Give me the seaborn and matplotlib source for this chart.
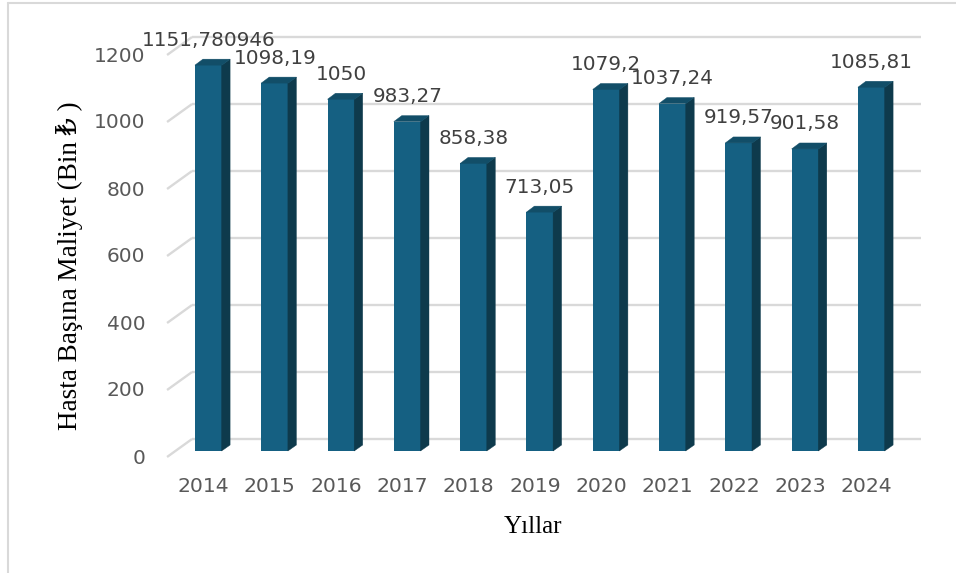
import matplotlib
matplotlib.use("Agg")
import matplotlib.pyplot as plt
from matplotlib.transforms import ScaledTranslation
from matplotlib.patches import Polygon
from matplotlib.lines import Line2D
import seaborn as sns
import pandas as pd

# ---- data ----
years = ["2014", "2015", "2016", "2017", "2018", "2019", "2020", "2021", "2022", "2023", "2024"]
values = [1151.780946, 1098.19, 1050, 983.27, 858.38, 713.05, 1079.2, 1037.24, 919.57, 901.58, 1085.81]
yticks = [0, 200, 400, 600, 800, 1000, 1200]
ylabel = "Hasta Başına Maliyet (Bin ₺ )"
xlabel = "Yıllar"

def fmt(v):
    return ("%.6f" % v).rstrip("0").rstrip(".").replace(".", ",")

labels = [fmt(v) for v in values]

# ---- style ----
sns.set_theme(style="white")
plt.rcParams["font.family"] = ["DejaVu Sans"]

FRONT = "#156082"
SIDE = "#0e3a4c"
TOP = "#124e68"
GRID = "#d9d9d9"
TICK = "#595959"
LBL = "#404040"
SERIF = ["Liberation Serif", "DejaVu Serif", "DejaVu Sans"]

W, H, DPI = 956, 573, 100
fig = plt.figure(figsize=(W / DPI, H / DPI), dpi=DPI)
fig.patch.set_facecolor("white")

# axes geometry (pixels) for the bar plane
ax_l, ax_r = 175.35, 904.65
ax_b, ax_t = 451.0, 49.0
ax = fig.add_axes([ax_l / W, (H - ax_b) / H, (ax_r - ax_l) / W, (ax_b - ax_t) / H])
ax.set_facecolor("none")

df = pd.DataFrame({"year": years, "value": values})
sns.barplot(data=df, x="year", y="value", color=FRONT, saturation=1, width=0.41,
            ax=ax, zorder=3, linewidth=0)
ax.set_xlim(-0.5, len(years) - 0.5)
ax.set_ylim(0, 1200)

px_x = (ax_r - ax_l) / len(years)   # pixels per x unit
px_y = (ax_b - ax_t) / 1200.0        # pixels per y unit

def off(dx_px, dy_px):
    return ax.transData + ScaledTranslation(dx_px / DPI, dy_px / DPI, fig.dpi_scale_trans)

# gridlines: left wall slant + back wall line
front_dx, front_dy = -8.3, -6.0     # front plane relative to bar plane (up positive)
back_dx, back_dy = 16.7, 12.0
for t in yticks:
    ax.plot([-0.5 + front_dx / px_x, -0.5 + back_dx / px_x],
            [t + front_dy / px_y, t + back_dy / px_y],
            color=GRID, lw=1.7, zorder=1, clip_on=False, solid_capstyle="butt")
    ax.plot([-0.5, len(years) - 0.5], [t, t], transform=off(back_dx, back_dy),
            color=GRID, lw=1.7, zorder=1, clip_on=False, solid_capstyle="butt")

# 3D faces for bars
ddx, ddy = 8.0 / px_x, 6.0 / px_y
eps = 0.5 / px_x
for p, v in zip(ax.patches, values):
    x0 = p.get_x()
    x1 = x0 + p.get_width()
    side = Polygon([(x1 - eps, 0), (x1 - eps, v), (x1 + ddx, v + ddy), (x1 + ddx, ddy)],
                   closed=True, facecolor=SIDE, edgecolor=SIDE, lw=0.3, zorder=3.1, clip_on=False)
    top = Polygon([(x0, v), (x1, v), (x1 + ddx, v + ddy), (x0 + ddx, v + ddy)],
                  closed=True, facecolor=TOP, edgecolor=TOP, lw=0.3, zorder=3.2, clip_on=False)
    ax.add_patch(side)
    ax.add_patch(top)

# data labels
for i, (v, s) in enumerate(zip(values, labels)):
    ax.annotate(s, (i, v), xytext=(0, 25 * 0.72), textcoords="offset points",
                ha="center", va="center", fontsize=14.4, color=LBL, zorder=5)

# ticks
ax.set_yticks(yticks)
ax.set_yticklabels([str(t) for t in yticks])
ax.tick_params(axis="y", length=0, pad=30 * 0.72, labelsize=14.5, labelcolor=TICK)
ax.tick_params(axis="x", length=0, pad=26 * 0.72, labelsize=14.7, labelcolor=TICK)
for sp in ax.spines.values():
    sp.set_visible(False)
ax.grid(False)

ax.set_xlabel(xlabel, family=SERIF, fontsize=18, color="black")
ax.set_ylabel(ylabel, family=SERIF, fontsize=19.5, color="black")
ax.xaxis.label.set_va("center")
ax.yaxis.label.set_va("center")
ax.xaxis.set_label_coords((533 - ax_l) / (ax_r - ax_l), (ax_b - 527) / (ax_b - ax_t))
ax.yaxis.set_label_coords((70 - ax_l) / (ax_r - ax_l), (ax_b - 266) / (ax_b - ax_t))

for lab in ax.get_yticklabels():
    lab.set_transform(lab.get_transform() + ScaledTranslation(0, -5 / DPI, fig.dpi_scale_trans))
for lab in ax.get_xticklabels():
    lab.set_transform(lab.get_transform() + ScaledTranslation(-5 / DPI, 0, fig.dpi_scale_trans))

# chart-area border (left and top edges visible)
fig.add_artist(Line2D([7.5 / W, 7.5 / W], [0, 1 - 3 / H], color=GRID, lw=1.5))
fig.add_artist(Line2D([7.5 / W, 1], [1 - 3 / H, 1 - 3 / H], color=GRID, lw=1.5))

fig.savefig("out.png", dpi=DPI)
